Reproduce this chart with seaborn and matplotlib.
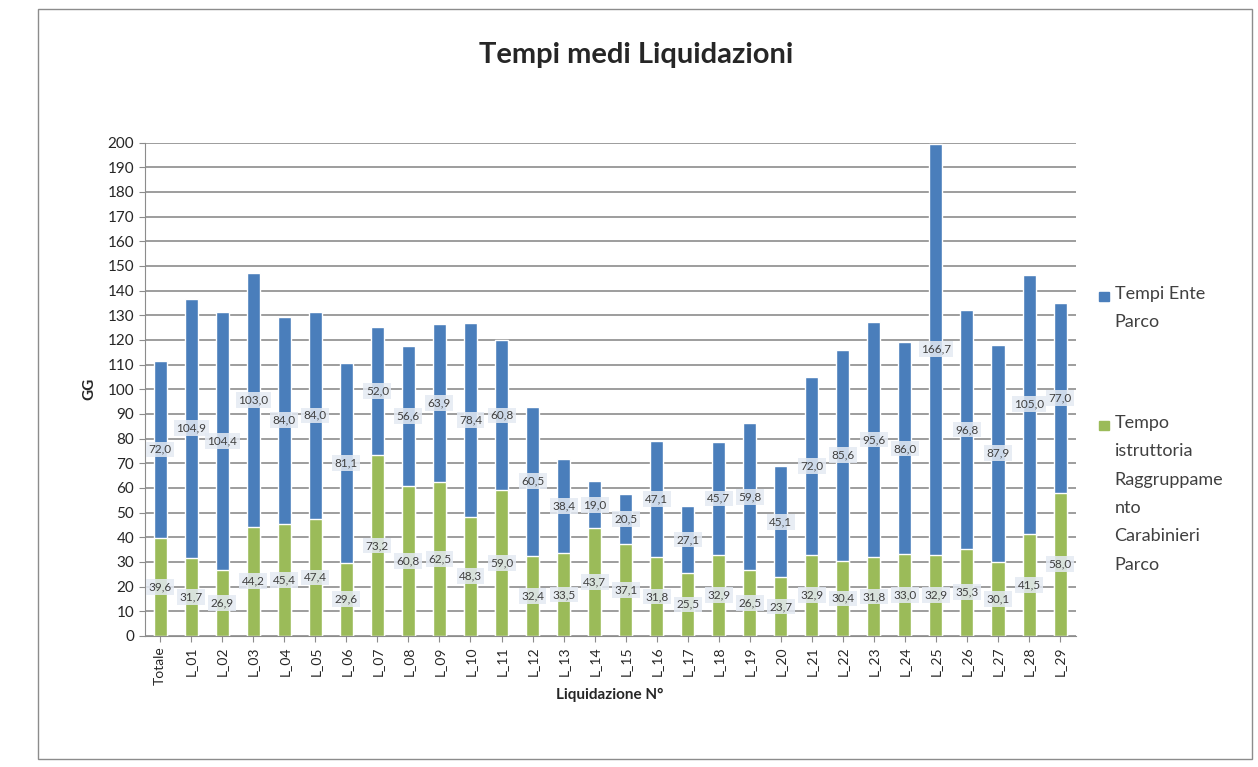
import matplotlib
matplotlib.use("Agg")
import matplotlib.pyplot as plt
from matplotlib.patches import Rectangle
import seaborn as sns
import pandas as pd

# data
liquidazioni = ["Totale"] + ["L_%02d" % i for i in range(1, 30)]
tempo_istruttoria = [39.6, 31.7, 26.9, 44.2, 45.4, 47.4, 29.6, 73.2, 60.8, 62.5,
                     48.3, 59.0, 32.4, 33.5, 43.7, 37.1, 31.8, 25.5, 32.9, 26.5,
                     23.7, 32.9, 30.4, 31.8, 33.0, 32.9, 35.3, 30.1, 41.5, 58.0]
tempi_ente = [72.0, 104.9, 104.4, 103.0, 84.0, 84.0, 81.1, 52.0, 56.6, 63.9,
              78.4, 60.8, 60.5, 38.4, 19.0, 20.5, 47.1, 27.1, 45.7, 59.8,
              45.1, 72.0, 85.6, 95.6, 86.0, 166.7, 96.8, 87.9, 105.0, 77.0]
legend_labels = ["Tempi Ente\nParco",
                 "Tempo\nistruttoria\nRaggruppame\nnto\nCarabinieri\nParco"]

df = pd.DataFrame({"Liquidazione": liquidazioni,
                   "Istruttoria": tempo_istruttoria,
                   "Ente": tempi_ente})
df["Totale"] = df["Istruttoria"] + df["Ente"]

blue = "#4A7EBB"
green = "#9BBB59"

sns.set_style("white")
plt.rcParams["font.family"] = ["Lato", "DejaVu Sans"]

fig = plt.figure(figsize=(12.58, 7.67), dpi=100)
ax = fig.add_axes([0.115, 0.171, 0.74, 0.643])

sns.barplot(data=df, x="Liquidazione", y="Totale", color=blue, width=0.42,
            saturation=1, ax=ax)
sns.barplot(data=df, x="Liquidazione", y="Istruttoria", color=green, width=0.42,
            saturation=1, ax=ax)

# value labels centred in each segment
box = dict(boxstyle="square,pad=0.2", facecolor="#E4EAF3", edgecolor="none", alpha=0.85)
for i, row in df.iterrows():
    ax.text(i, row["Istruttoria"] / 2, f"{row['Istruttoria']:.1f}".replace(".", ","),
            ha="center", va="center", fontsize=8.5, color="#404040", bbox=box)
    ax.text(i, row["Istruttoria"] + row["Ente"] / 2, f"{row['Ente']:.1f}".replace(".", ","),
            ha="center", va="center", fontsize=8.5, color="#404040", bbox=box)

ax.set_ylim(0, 200)
ax.set_yticks(range(0, 201, 10))
ax.set_xlim(-0.5, len(df) - 0.5)
ax.yaxis.grid(True, color="#8C8C8C", linewidth=1.2)
ax.set_axisbelow(True)
for s in ["top", "right"]:
    ax.spines[s].set_visible(False)
ax.spines["left"].set_color("#8C8C8C")
ax.spines["bottom"].set_color("#8C8C8C")
ax.tick_params(axis="y", labelsize=11, length=4, color="#8C8C8C", left=True)
ax.tick_params(axis="x", labelsize=10, rotation=90, length=4, color="#8C8C8C", bottom=True)

ax.set_xlabel("Liquidazione N°", fontsize=11, fontweight="bold", labelpad=2)
ax.set_ylabel("GG", fontsize=11, fontweight="bold", labelpad=8)
fig.suptitle("Tempi medi Liquidazioni", x=0.506, y=0.945, fontsize=21, fontweight="bold")

# legend: marker aligned with the first line of each wrapped label
for lab, col, yc in zip(legend_labels, [blue, green], [0.614, 0.446]):
    fig.patches.append(Rectangle((0.874, yc - 0.006), 0.0075, 0.0115,
                                 transform=fig.transFigure, color=col))
    fig.text(0.886, yc + 0.013, lab, ha="left", va="top", fontsize=13,
             color="#404040", linespacing=1.95)

fig.patches.append(Rectangle((0.03, 0.01), 0.965, 0.978, transform=fig.transFigure,
                             fill=False, edgecolor="#8C8C8C", linewidth=1))

fig.savefig("out.png", dpi=100)
